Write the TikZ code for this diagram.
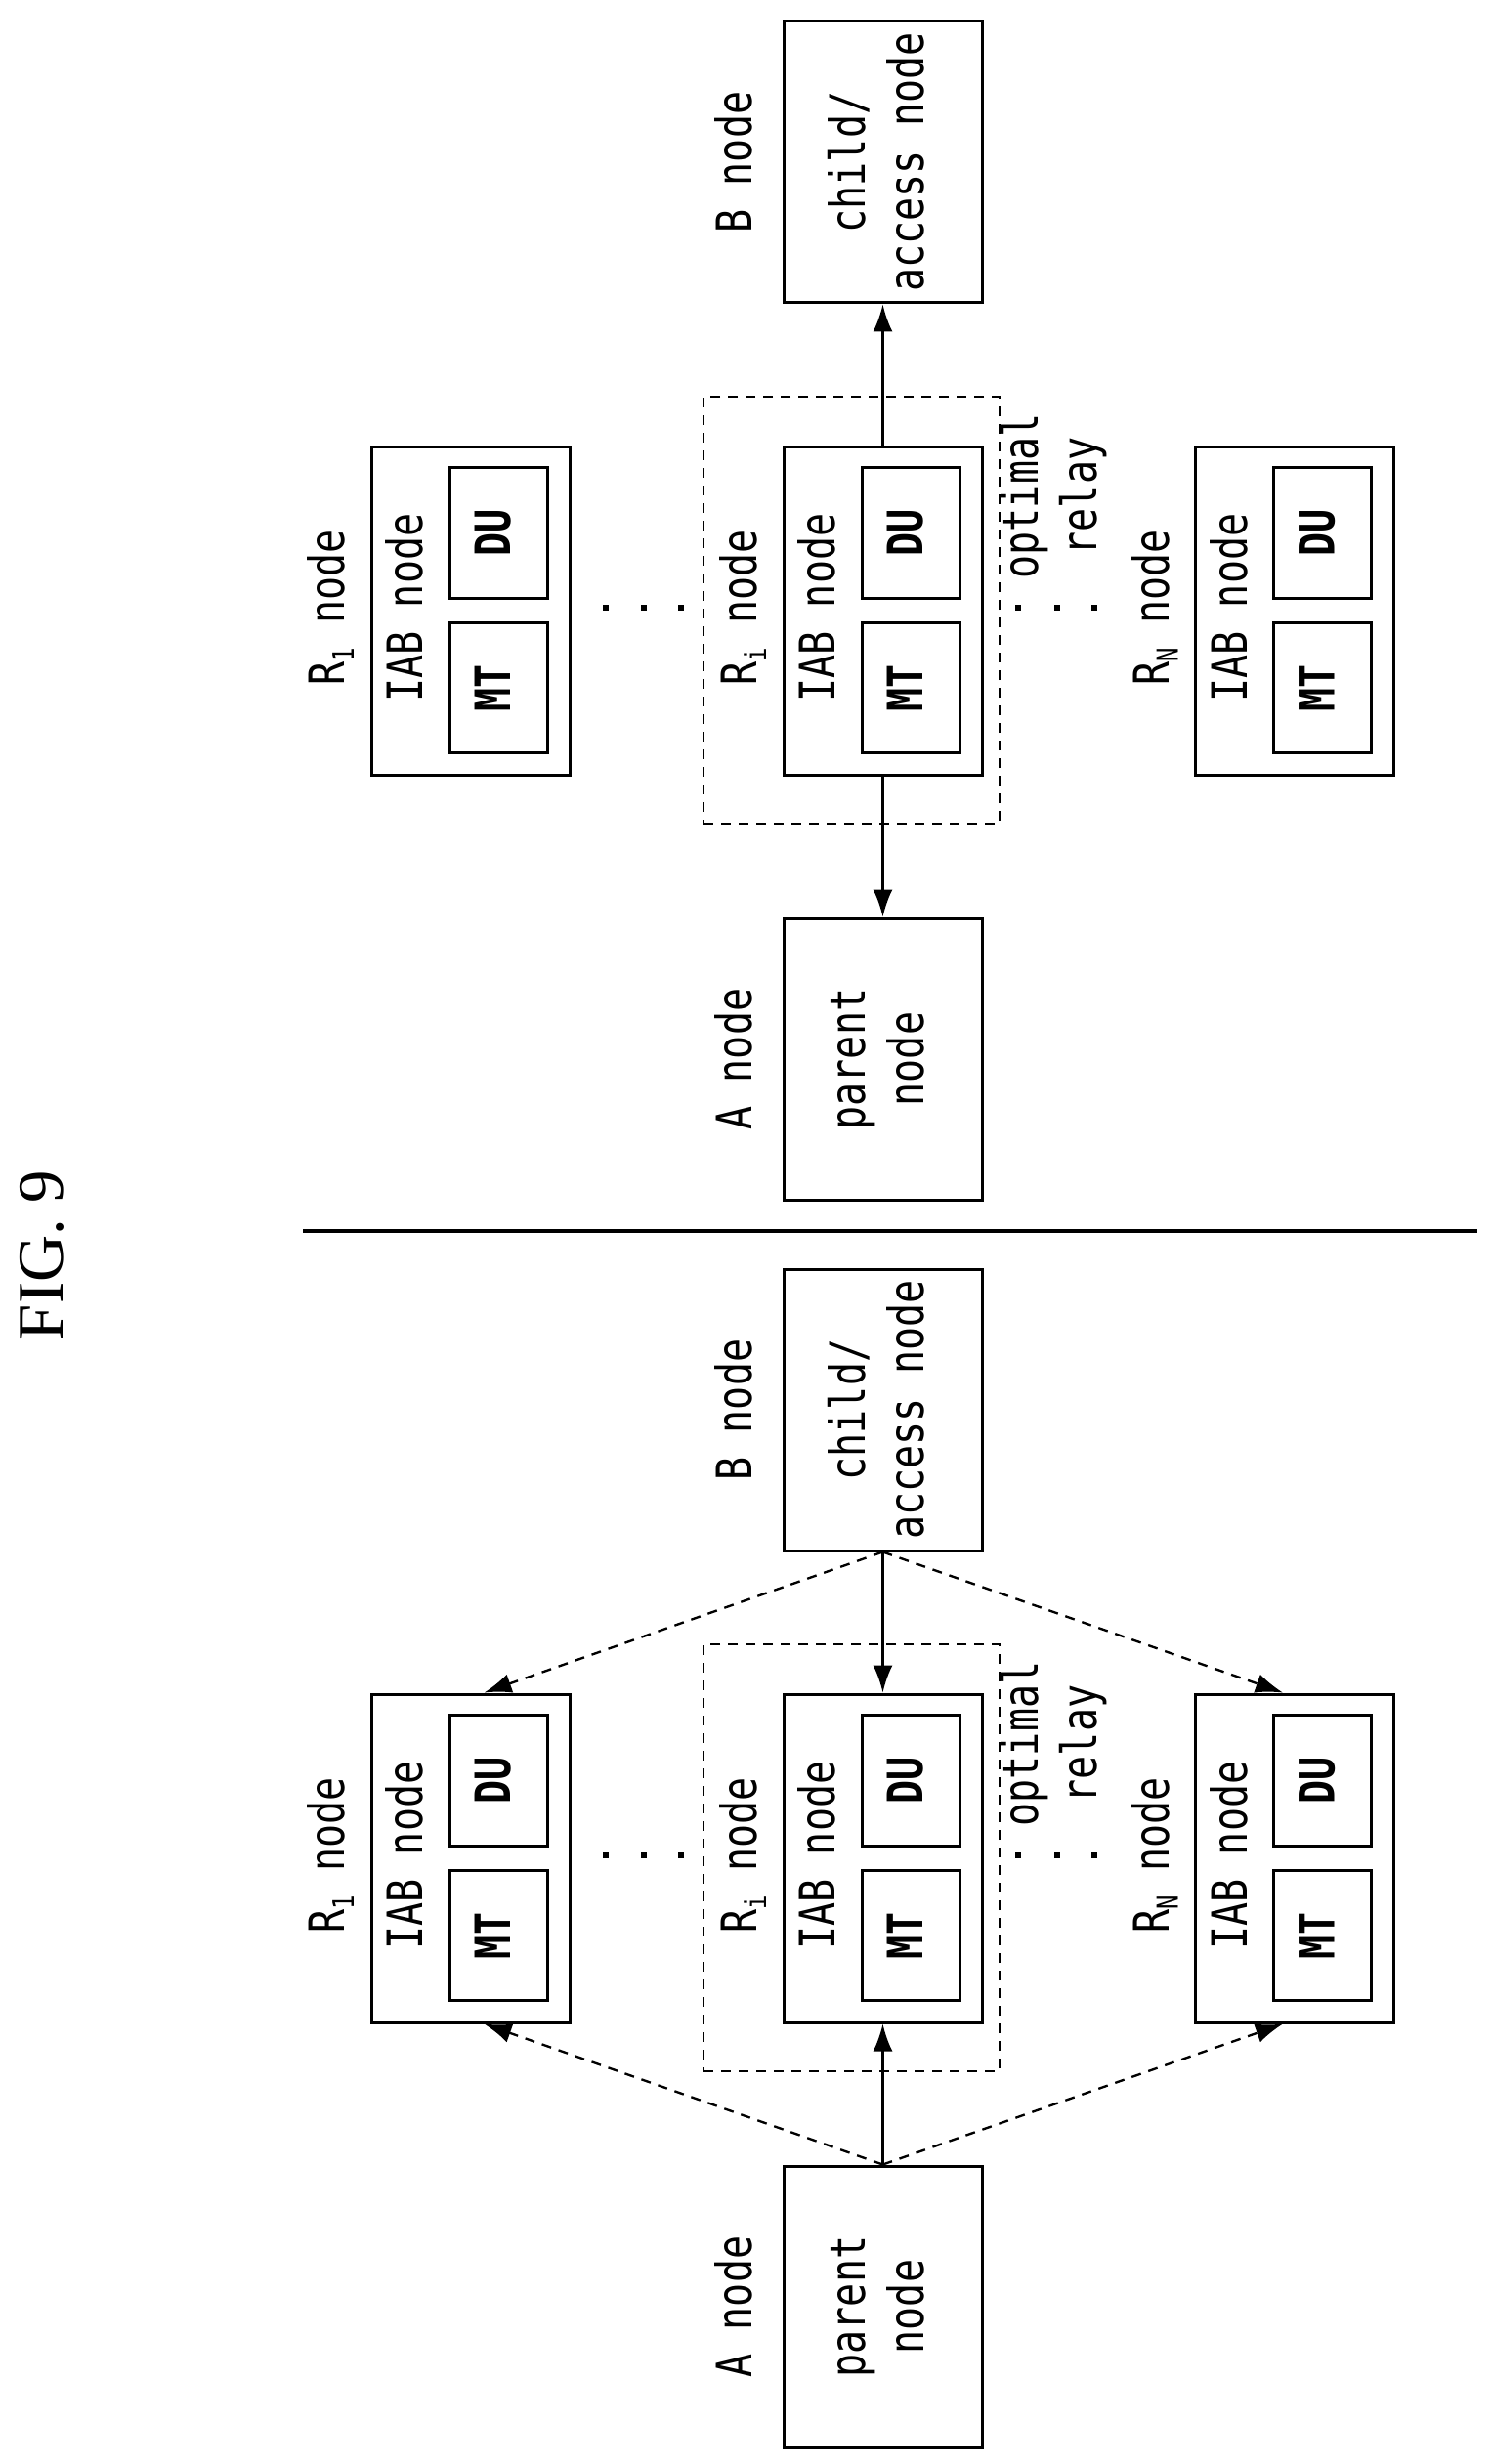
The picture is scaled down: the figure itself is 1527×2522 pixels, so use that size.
\documentclass[tikz,border=0pt]{standalone}
\usepackage{fontspec}
\setmainfont{Liberation Serif}
\setmonofont{DejaVu Sans Mono}[FakeStretch=0.8]
\usetikzlibrary{positioning,arrows.meta,calc}
\newcommand{\rot}[1]{\rotatebox{90}{\begin{tabular}{@{}c@{}}#1\end{tabular}}}
\newcommand{\sub}[1]{\raisebox{-0.35ex}{\fontsize{9}{9}\selectfont #1}}

\begin{document}
\begin{tikzpicture}[x=0.3pt,y=-0.3pt,font=\ttfamily\fontsize{15}{18}\selectfont,
    box/.style={draw,line width=0.9pt,inner sep=0pt,minimum width=60.9pt,minimum height=100.8pt},
    end/.style={draw,line width=0.9pt,inner sep=0pt,minimum width=60.9pt,minimum height=86.4pt},
    part/.style={draw,line width=0.9pt,inner sep=0pt,minimum width=30pt,minimum height=40pt,font=\ttfamily\bfseries\fontsize{15}{18}\selectfont},
    sel/.style={draw,line width=0.6pt,dash pattern=on 3pt off 2.4pt,minimum width=90.9pt,minimum height=131.1pt},
    link/.style={line width=0.7pt,-{Latex[length=8.4pt,width=6pt]}},
    try/.style={link,dash pattern=on 3pt off 2.4pt}]
  \useasboundingbox (0,0) rectangle (1527,2522);

  \node (fig) at (43,1285) {\rotatebox{90}{\rmfamily\fontsize{20}{24}\selectfont FIG. 9}};
  \draw[line width=1.2pt] (310,1260) -- (1512,1260);

  % the two halves
  \foreach \h/\dy in {t/0,b/1277}{
    \begin{scope}[shift={(0,\dy)}]
      \node[end] (B\h) at (903.5,166) {\rot{child/\\access node}};
      \node (Bl\h) at (757,166) {\rot{B node}};
      \node[end] (A\h) at (903.5,1084) {\rot{parent\\node}};
      \node (Al\h) at (757,1084) {\rot{A node}};
      \node[sel] (sel\h) at (871.5,624.5) {};
      \foreach \r/\x/\n in {1/481.5/1,i/903.5/i,N/1325/N}{
        \node[box] (R\r\h) at (\x,625) {};
        \node (iab\r\h) at (\x-61,622) {\rot{IAB node}};
        \node[part] (du\r\h) at (\x+28.5,545.5) {\rot{DU}};
        \node[part] (mt\r\h) at (\x+28.5,704) {\rot{MT}};
        \node (Rl\r\h) at (\x-141,622) {\rot{R\sub{\n} node}};
      }
      \foreach \x in {620,659,697,1042,1082,1120}
        \fill (\x-3,619) rectangle ++(6,6);
      \node (opt\h) at (1080,508) {\rot{optimal\\relay}};
    \end{scope}
  }

  % top: chosen relay only
  \draw[link] (Rit.south) -- (At.north);
  \draw[link] (Rit.north) -- (Bt.south);

  % bottom: candidates
  \draw[link] (Ab.north) -- (Rib.south);
  \draw[try] (Ab.north) -- ($(R1b.south)+(14,0)$);
  \draw[try] (Ab.north) -- ($(RNb.south)+(-12,0)$);
  \draw[link] (Bb.south) -- (Rib.north);
  \draw[try] (Bb.south) -- ($(R1b.north)+(14,0)$);
  \draw[try] (Bb.south) -- ($(RNb.north)+(-12,0)$);
\end{tikzpicture}
\end{document}
